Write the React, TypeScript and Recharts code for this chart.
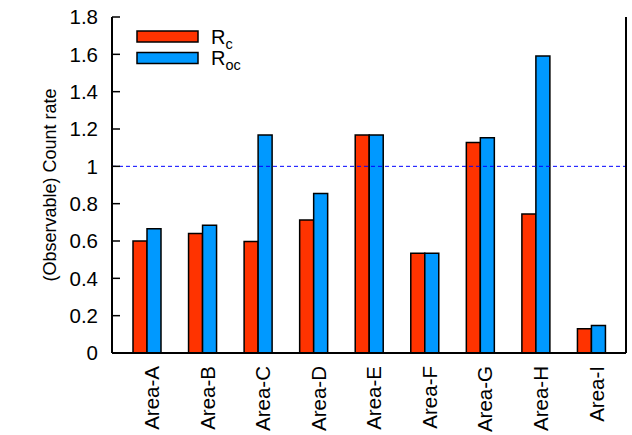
import { BarChart, Bar, XAxis, YAxis, ReferenceLine } from "recharts";

// Observed count rate per area, two estimators side by side.
const CATEGORIES = [
  "Area-A",
  "Area-B",
  "Area-C",
  "Area-D",
  "Area-E",
  "Area-F",
  "Area-G",
  "Area-H",
  "Area-I",
];
const RC_VALUES = [0.6, 0.64, 0.597, 0.712, 1.168, 0.534, 1.128, 0.745, 0.13];
const ROC_VALUES = [0.666, 0.684, 1.168, 0.855, 1.168, 0.534, 1.153, 1.591, 0.147];
const Y_TICKS = [0, 0.2, 0.4, 0.6, 0.8, 1, 1.2, 1.4, 1.6, 1.8];
const THRESHOLD = 1;

const SERIES = [
  { key: "rc", base: "R", sub: "c", color: "#ff3300" },
  { key: "roc", base: "R", sub: "oc", color: "#0099ff" },
];

const data = CATEGORIES.map((name, i) => ({
  name,
  rc: RC_VALUES[i],
  roc: ROC_VALUES[i],
}));

const FONT = "'Liberation Sans', Arial, Helvetica, sans-serif";
const W = 632;
const H = 435;
const MARGIN = { top: 17, right: 0, left: 0, bottom: 0 };
const Y_AXIS_W = 112;
const X_AXIS_H = 82;
const BAR_SIZE = 14;
// gnuplot-style histogram: tics sit half a bar to the right of each pair
const TIC_SHIFT = BAR_SIZE / 2;

function BottomTick(props: any) {
  const { x, y, payload } = props;
  const tx = x + TIC_SHIFT - 2;
  return (
    <text
      x={tx}
      y={y}
      dy="0.36em"
      textAnchor="end"
      transform={`rotate(-90, ${tx}, ${y})`}
      fontFamily={FONT}
      fontSize={20.5}
      fill="#000"
    >
      {payload.value}
    </text>
  );
}

function TopTick(props: any) {
  const { x } = props;
  const tx = x + TIC_SHIFT;
  return (
    <line
      x1={tx}
      x2={tx}
      y1={MARGIN.top}
      y2={MARGIN.top + 8}
      stroke="#000"
      strokeWidth={1.5}
    />
  );
}

function YLabel(props: any) {
  const vb = props.viewBox || {};
  const cx = 50;
  const cy = (vb.y ?? MARGIN.top) + (vb.height ?? 336) / 2;
  return (
    <text
      x={cx}
      y={cy}
      dy="0.36em"
      textAnchor="middle"
      transform={`rotate(-90, ${cx}, ${cy})`}
      fontFamily={FONT}
      fontSize={18}
      fill="#000"
    >
      (Observable) Count rate
    </text>
  );
}

function LegendBox() {
  const x0 = 137;
  const y0 = 31;
  const rowH = 21.5;
  return (
    <g>
      {SERIES.map((s, i) => {
        const y = y0 + i * rowH;
        return (
          <g key={s.key}>
            <rect
              x={x0}
              y={y}
              width={61}
              height={11}
              fill={s.color}
              stroke="#000"
              strokeWidth={1.5}
            />
            <text
              x={x0 + 74}
              y={y + 12.5}
              fontFamily={FONT}
              fontSize={20}
              fill="#000"
            >
              {s.base}
              <tspan fontSize={14.5} dy={5}>
                {s.sub}
              </tspan>
            </text>
          </g>
        );
      })}
    </g>
  );
}

const noTick = () => <g />;

export default function App() {
  return (
    <div style={{ position: "absolute", left: 0, top: 0, width: W, height: H, background: "#fff" }}>
      <BarChart
        width={W}
        height={H}
        data={data}
        margin={MARGIN}
        barGap={0}
        barSize={BAR_SIZE}
      >
        <XAxis
          dataKey="name"
          padding={{ left: 7, right: 7 }}
          height={X_AXIS_H}
          interval={0}
          axisLine={{ stroke: "#000", strokeWidth: 2 }}
          tickLine={false}
          tickSize={0}
          tickMargin={13}
          tick={(p: any) => <BottomTick {...p} />}
        />
        <XAxis
          xAxisId="top"
          orientation="top"
          dataKey="name"
          padding={{ left: 7, right: 7 }}
          height={0}
          interval={0}
          axisLine={{ stroke: "#000", strokeWidth: 2 }}
          tickLine={false}
          tickSize={0}
          tick={(p: any) => <TopTick {...p} />}
        />
        <YAxis
          width={Y_AXIS_W}
          domain={[0, 1.8]}
          ticks={Y_TICKS}
          interval={0}
          allowDataOverflow
          axisLine={{ stroke: "#000", strokeWidth: 2 }}
          tickLine={{ stroke: "#000", strokeWidth: 1.5 }}
          tickSize={-8}
          tickMargin={22}
          tick={{ fill: "#000", fontSize: 20.5, fontFamily: FONT }}
          label={(p: any) => <YLabel {...p} />}
        />
        <YAxis
          yAxisId="right"
          orientation="right"
          width={6}
          domain={[0, 1.8]}
          ticks={Y_TICKS}
          interval={0}
          axisLine={{ stroke: "#000", strokeWidth: 2 }}
          tickLine={{ stroke: "#000", strokeWidth: 1.5 }}
          tickSize={-8}
          tick={noTick}
        />
        <ReferenceLine
          y={THRESHOLD}
          stroke="#0000ff"
          strokeWidth={1}
          strokeDasharray="4 3"
        />
        {SERIES.map((s) => (
          <Bar
            key={s.key}
            dataKey={s.key}
            fill={s.color}
            stroke="#000"
            strokeWidth={1.5}
            isAnimationActive={false}
          />
        ))}
        <LegendBox />
      </BarChart>
    </div>
  );
}
